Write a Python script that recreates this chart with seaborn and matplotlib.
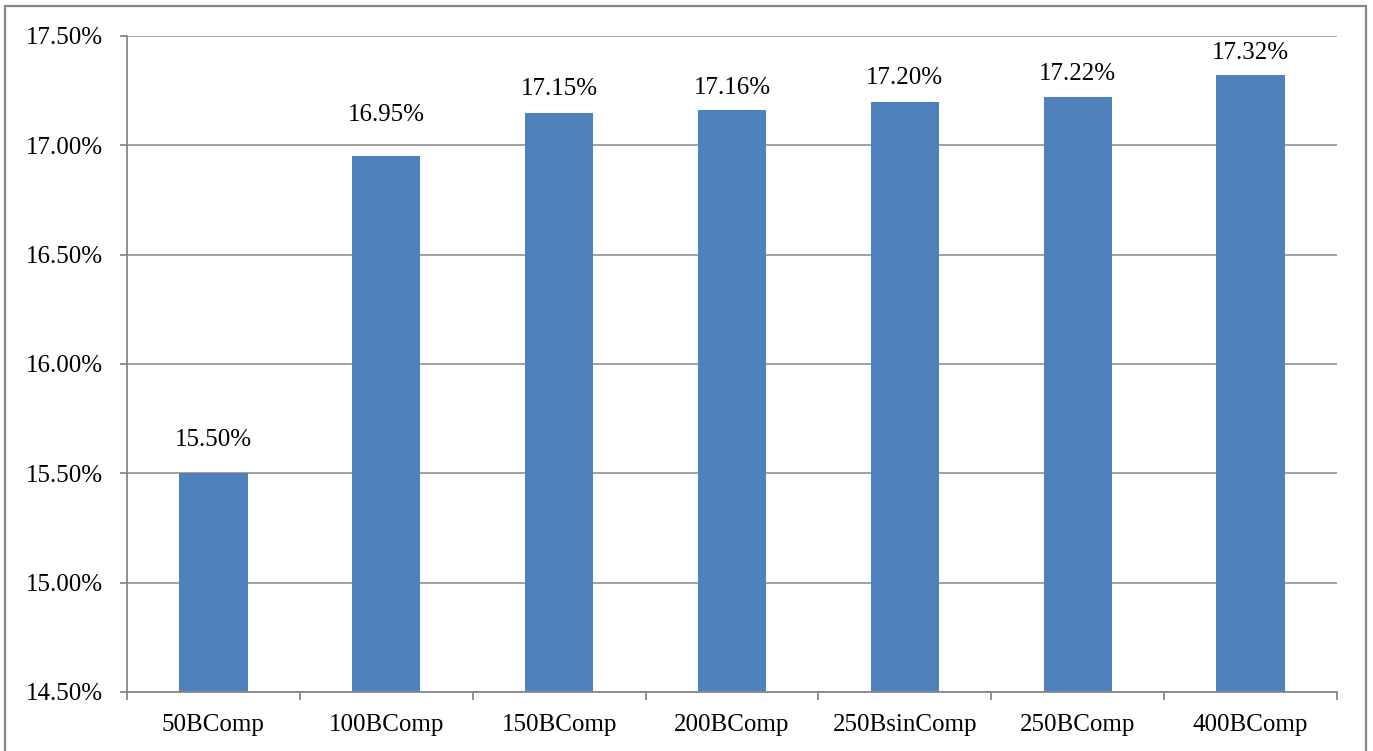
import matplotlib
matplotlib.use("Agg")
import matplotlib.pyplot as plt
import matplotlib.ticker as mticker
from matplotlib.patches import Rectangle
import numpy as np
import pandas as pd
import seaborn as sns

categories = ["50BComp", "100BComp", "150BComp", "200BComp",
              "250BsinComp", "250BComp", "400BComp"]
values = [15.50, 16.95, 17.15, 17.16, 17.20, 17.22, 17.32]
y_ticks = [14.50, 15.00, 15.50, 16.00, 16.50, 17.00, 17.50]

# vertical gap between each bar top and its value label (points)
label_offsets = [16, 22, 9, 8, 9, 9, 8]

sns.set_theme(style="white")
plt.rcParams["font.family"] = ["Liberation Serif", "DejaVu Serif"]

bar_color = "#4F81BD"
grid_color = "#878787"
fs = 18

fig = plt.figure(figsize=(13.73, 7.51), dpi=100)
ax = fig.add_axes([127 / 1373, 1 - 692 / 751, (1337 - 127) / 1373, (692 - 36) / 751])

df = pd.DataFrame({"cat": categories, "val": values})
sns.barplot(data=df, x="cat", y="val", color=bar_color, width=0.395,
            saturation=1, linewidth=0, ax=ax)

ax.set_ylim(y_ticks[0], y_ticks[-1])
ax.set_xlim(-0.5, len(categories) - 0.5)
ax.set_yticks(y_ticks)
ax.yaxis.set_major_formatter(mticker.FuncFormatter(lambda v, _: f"{v:.2f}%"))
ax.set_xlabel("")
ax.set_ylabel("")

ax.grid(axis="y", color=grid_color, linewidth=1.1)
ax.set_axisbelow(True)

for s in ["top", "right"]:
    ax.spines[s].set_visible(False)
for s in ["left", "bottom"]:
    ax.spines[s].set_color(grid_color)
    ax.spines[s].set_linewidth(1.3)

# category boundary ticks on the x axis
ax.set_xticks(np.arange(-0.5, len(categories)), minor=True)
ax.tick_params(axis="x", which="minor", length=6, width=1.3, color=grid_color,
               direction="out", bottom=True)
ax.tick_params(axis="x", which="major", length=0, pad=16, labelsize=fs,
               labelcolor="black")
ax.tick_params(axis="y", which="major", length=5, width=1.3, color=grid_color,
               direction="out", left=True, pad=12, labelsize=fs,
               labelcolor="black")

for i, (v, off) in enumerate(zip(values, label_offsets)):
    ax.annotate(f"{v:.2f}%", xy=(i, v), xytext=(0, off),
                textcoords="offset points", ha="center", va="bottom",
                fontsize=fs, color="black")

# outer chart border
fig.patches.append(Rectangle((5 / 1373, -0.01), (1366 - 5) / 1373, 1 - 6 / 751 + 0.01,
                             transform=fig.transFigure, fill=False,
                             edgecolor=grid_color, linewidth=1.6))

fig.savefig("out.png", dpi=100)
